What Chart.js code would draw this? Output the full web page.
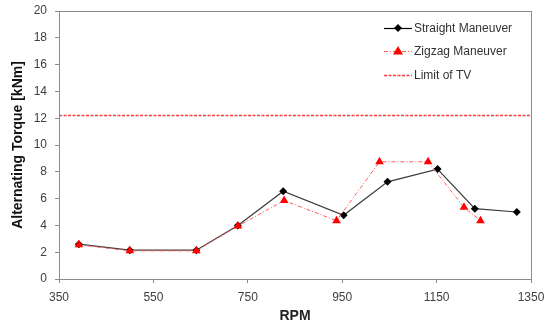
<!DOCTYPE html>
<html>
<head>
<meta charset="utf-8">
<script src="https://cdn.jsdelivr.net/npm/chart.js@4"></script>
<style>
  html, body { margin: 0; padding: 0; background: #fff; }
  #wrap { width: 555px; height: 329px; }
</style>
</head>
<body>
<div id="wrap"><canvas id="chart" width="555" height="329"></canvas></div>
<script>
// Data
const rpmStraight = [392, 500, 641, 729, 825, 953, 1046, 1152, 1231, 1320];
const torqueStraight = [2.6, 2.15, 2.15, 4.0, 6.55, 4.75, 7.25, 8.2, 5.25, 5.0];
const rpmZigzag = [392, 500, 641, 729, 827, 938, 1029, 1132, 1208, 1243];
const torqueZigzag = [2.55, 2.1, 2.1, 3.95, 5.85, 4.35, 8.75, 8.75, 5.35, 4.35];
const limitRpm = [350, 1350];
const limitTorque = [12.2, 12.2];
const legendLabels = ['Straight Maneuver', 'Zigzag Maneuver', 'Limit of TV'];

const toPoints = (xs, ys) => xs.map((x, i) => ({ x: x, y: ys[i] }));

const limitColor = '#ff4040';

// Plot frame + legend drawn by hand
const framePlugin = {
    id: 'frame',
    afterDraw(chart) {
        const ctx = chart.ctx;
        const a = chart.chartArea;
        ctx.save();
        ctx.strokeStyle = '#8c8c8c';
        ctx.lineWidth = 1;
        ctx.strokeRect(a.left + 0.5, a.top + 0.5, a.right - a.left, a.bottom - a.top);

        // legend
        const x0 = 384, x1 = 412;
        const rows = [28, 51, 75];
        ctx.font = '12px "Liberation Sans", Arial, sans-serif';
        ctx.textBaseline = 'middle';
        rows.forEach((y, i) => {
            ctx.beginPath();
            if (i === 0) {
                ctx.strokeStyle = '#000';
                ctx.lineWidth = 1.2;
                ctx.setLineDash([]);
            } else if (i === 1) {
                ctx.strokeStyle = '#ff5a5a';
                ctx.lineWidth = 1;
                ctx.setLineDash([4, 2, 1, 2]);
            } else {
                ctx.strokeStyle = limitColor;
                ctx.lineWidth = 1.6;
                ctx.setLineDash([3, 1.5]);
            }
            ctx.moveTo(x0, y + 0.5);
            ctx.lineTo(x1, y + 0.5);
            ctx.stroke();
            ctx.setLineDash([]);
            const cx = (x0 + x1) / 2;
            if (i === 0) {
                ctx.fillStyle = '#000';
                ctx.beginPath();
                ctx.moveTo(cx, y - 4);
                ctx.lineTo(cx + 4, y);
                ctx.lineTo(cx, y + 4);
                ctx.lineTo(cx - 4, y);
                ctx.closePath();
                ctx.fill();
            } else if (i === 1) {
                ctx.fillStyle = '#ff0000';
                ctx.beginPath();
                ctx.moveTo(cx, y - 5);
                ctx.lineTo(cx + 5, y + 3.5);
                ctx.lineTo(cx - 5, y + 3.5);
                ctx.closePath();
                ctx.fill();
            }
            ctx.fillStyle = '#333';
            ctx.fillText(legendLabels[i], x1 + 2, y + 1);
        });
        ctx.restore();
    }
};

const tickFont = { family: '"Liberation Sans", Arial, sans-serif', size: 12 };
const titleFont = { family: '"Liberation Sans", Arial, sans-serif', size: 14, weight: 'bold' };

new Chart(document.getElementById('chart').getContext('2d'), {
    type: 'line',
    data: {
        datasets: [
            {
                label: legendLabels[0],
                data: toPoints(rpmStraight, torqueStraight),
                borderColor: '#3a3a3a',
                borderWidth: 1.2,
                pointStyle: 'rectRot',
                pointRadius: 4,
                pointBackgroundColor: '#000',
                pointBorderColor: '#000',
                pointBorderWidth: 0,
                order: 1
            },
            {
                label: legendLabels[1],
                data: toPoints(rpmZigzag, torqueZigzag),
                borderColor: '#ff5a5a',
                borderWidth: 1,
                borderDash: [4, 2, 1, 2],
                pointStyle: 'triangle',
                pointRadius: 5,
                pointBackgroundColor: '#ff0000',
                pointBorderColor: '#ff0000',
                pointBorderWidth: 0,
                order: 0
            },
            {
                label: legendLabels[2],
                data: toPoints(limitRpm, limitTorque),
                borderColor: limitColor,
                borderWidth: 1.6,
                borderDash: [3, 1.5],
                pointRadius: 0,
                order: 2
            }
        ]
    },
    options: {
        responsive: false,
        animation: false,
        layout: { padding: { left: 0, right: 24, top: 11, bottom: 0 } },
        plugins: {
            legend: { display: false },
            tooltip: { enabled: false }
        },
        scales: {
            x: {
                type: 'linear',
                min: 350,
                max: 1350,
                ticks: { stepSize: 200, color: '#404040', font: tickFont, padding: 7, callback: v => String(v) },
                grid: { drawOnChartArea: false, drawTicks: true, tickLength: 4, color: '#8c8c8c' },
                border: { color: '#8c8c8c' },
                title: { display: true, text: 'RPM', color: '#222', font: titleFont, padding: { top: 9 } },
                afterFit(axis) { axis.height = 50; axis.paddingLeft = 0; axis.paddingRight = 0; }
            },
            y: {
                min: 0,
                max: 20,
                ticks: { stepSize: 2, color: '#404040', font: tickFont, padding: 8 },
                grid: { drawOnChartArea: false, drawTicks: true, tickLength: 4, color: '#8c8c8c' },
                border: { color: '#8c8c8c' },
                title: { display: true, text: 'Alternating Torque [kNm]', color: '#111', font: titleFont, padding: { top: 10, bottom: 0 } },
                afterFit(axis) { axis.width = 59; axis.paddingTop = 0; axis.paddingBottom = 0; }
            }
        }
    },
    plugins: [framePlugin]
});
</script>
</body>
</html>
